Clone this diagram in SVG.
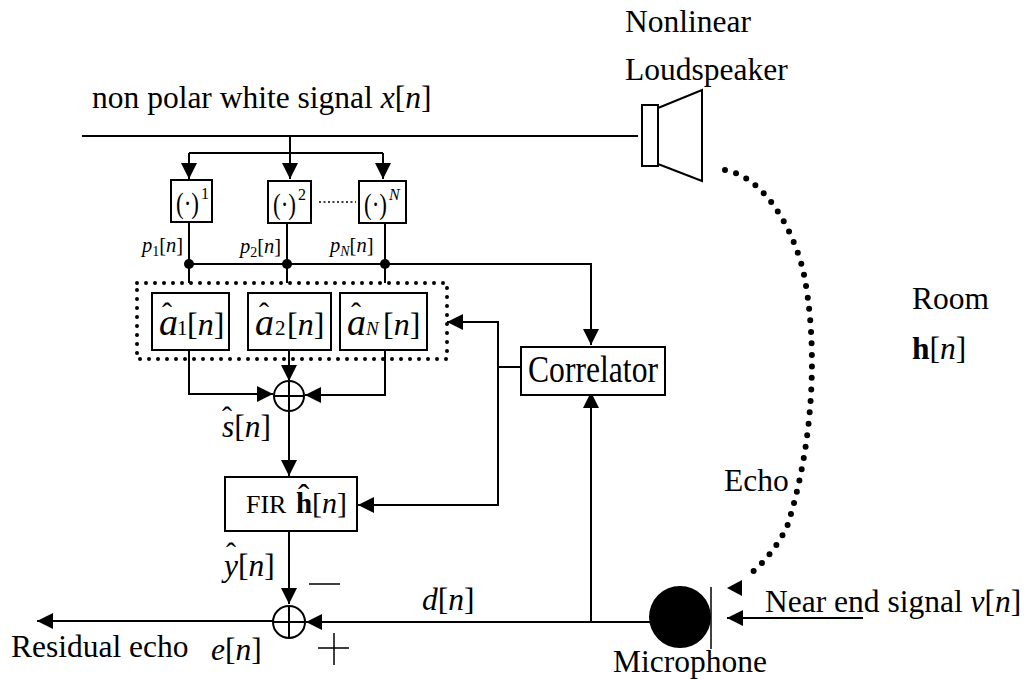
<svg xmlns="http://www.w3.org/2000/svg" width="1028" height="679" viewBox="0 0 1028 679">
<defs>
<marker id="a" viewBox="0 0 16 16" markerUnits="userSpaceOnUse" markerWidth="16" markerHeight="16" refX="16" refY="8" orient="auto"><path d="M0 0L16 8L0 16Z" fill="#000"/></marker>
</defs>
<style>
text{font-family:"Liberation Serif","Times New Roman",serif;fill:#000}
.l{fill:none;stroke:#000;stroke-width:2}
.b{fill:#fff;stroke:#000;stroke-width:2}
.t{font-size:31.5px}.i{font-style:italic}
.m{font-size:20.5px}.s{font-size:14px}
.u{font-size:16px}
.p{font-size:29px}
.aa{font-size:38px}.sub{font-size:21px}.br{font-size:32px}.hat{font-size:30px}
</style>
<rect width="1028" height="679" fill="#fff"/>
<g id="connectors">
<path class="l" d="M82 136H638"/>
<path class="l" d="M189 153H383M290 136V153"/>
<path class="l" d="M189 153V179" marker-end="url(#a)"/>
<path class="l" d="M290 153V179" marker-end="url(#a)"/>
<path class="l" d="M383 153V179" marker-end="url(#a)"/>
<path class="l" d="M189 222V283M287 223V283M385 223V283"/>
<path class="l" d="M189 264H591V345" marker-end="url(#a)"/>
<path class="l" d="M189 350V394H273" marker-end="url(#a)"/>
<path class="l" d="M385 350V395H305" marker-end="url(#a)"/>
<path class="l" d="M289 350V381" marker-end="url(#a)"/>
<path class="l" d="M289 411V476" marker-end="url(#a)"/>
<path class="l" d="M521 367H498V322H447" marker-end="url(#a)"/>
<path class="l" d="M498 367V505H358" marker-end="url(#a)"/>
<path class="l" d="M289 531V604" marker-end="url(#a)"/>
<path class="l" d="M273 621H37" marker-end="url(#a)"/>
<path class="l" d="M650 622H306" marker-end="url(#a)"/>
<path class="l" d="M591 622V392" marker-end="url(#a)"/>
<path class="l" d="M863 618H727" marker-end="url(#a)"/>
<path d="M727 588L742 580V596Z" fill="#000"/>
<path d="M725 170C760 176 790 220 803 270C818 340 815 440 787 527C778 545 765 562 750 574" fill="none" stroke="#000" stroke-width="6" stroke-linecap="round" stroke-dasharray="0 11.5"/>
<path d="M319 202H356" stroke="#000" stroke-width="1.5" stroke-dasharray="2 2.5"/>
</g>
<g id="dotted-group"><rect x="137" y="283" width="310" height="76" fill="none" stroke="#000" stroke-width="4" stroke-linecap="round" stroke-dasharray="0 9"/></g>
<g id="speaker"><rect class="b" x="642" y="105" width="16" height="61"/><path class="l" d="M658 108L702 90V181L658 164"/></g>
<g id="mic"><circle cx="680" cy="617" r="31" fill="#000"/><path d="M711 587V649" stroke="#000" stroke-width="1.5"/></g>
<g id="p1"><rect class="b" x="171" y="180" width="41" height="42"/><text class="p" x="176" y="213" textLength="23" lengthAdjust="spacingAndGlyphs">(·)</text><text class="u" x="201" y="199">1</text></g>
<g id="p2"><rect class="b" x="268" y="181" width="43" height="42"/><text class="p" x="273" y="214" textLength="23" lengthAdjust="spacingAndGlyphs">(·)</text><text class="u" x="298" y="200">2</text></g>
<g id="pN"><rect class="b" x="359" y="181" width="47" height="42"/><text class="p" x="364" y="214" textLength="23" lengthAdjust="spacingAndGlyphs">(·)</text><text class="u i" x="389" y="200">N</text></g>
<g id="labels-p">
<text class="m" x="142" y="252"><tspan class="i">p</tspan><tspan class="s" dy="4">1</tspan><tspan dy="-4">[</tspan><tspan class="i">n</tspan>]</text>
<text class="m" x="240" y="253"><tspan class="i">p</tspan><tspan class="s" dy="4">2</tspan><tspan dy="-4">[</tspan><tspan class="i">n</tspan>]</text>
<text class="m" x="330" y="252"><tspan class="i">p</tspan><tspan class="s i" dy="4">N</tspan><tspan dy="-4">[</tspan><tspan class="i">n</tspan>]</text>
</g>
<g id="junctions"><circle cx="189" cy="264" r="5"/><circle cx="287" cy="264" r="5"/><circle cx="385" cy="264" r="5"/></g>
<g id="a1"><rect class="b" x="152" y="293" width="77" height="57"/><text><tspan class="hat" x="162" y="323">ˆ</tspan><tspan class="aa i" x="159" y="335">a</tspan><tspan class="sub" x="177" y="335">1</tspan><tspan class="br" x="187" y="335">[<tspan class="i">n</tspan>]</tspan></text></g>
<g id="a2"><rect class="b" x="248" y="293" width="83" height="57"/><text><tspan class="hat" x="259" y="323">ˆ</tspan><tspan class="aa i" x="255" y="335">a</tspan><tspan class="sub" x="275" y="335">2</tspan><tspan class="br" x="287" y="335">[<tspan class="i">n</tspan>]</tspan></text></g>
<g id="aN"><rect class="b" x="340" y="293" width="87" height="57"/><text><tspan class="hat" x="351" y="323">ˆ</tspan><tspan class="aa i" x="347" y="335">a</tspan><tspan class="sub i" x="366" y="335" style="font-size:19px">N</tspan><tspan class="br" x="383" y="335">[<tspan class="i">n</tspan>]</tspan></text></g>
<g id="sum1"><circle class="b" cx="289" cy="396" r="15"/><path class="l" d="M274 396H304M289 381V411"/></g>
<g id="fir"><rect class="b" x="225" y="477" width="132" height="54"/><text x="246" y="513" font-size="26">FIR</text><text><tspan x="298" y="508" font-size="34">ˆ</tspan><tspan x="296" y="513" font-size="29" font-weight="bold">h</tspan><tspan x="312" y="513" font-size="30">[<tspan class="i">n</tspan>]</tspan></text></g>
<g id="sum2"><circle class="b" cx="289" cy="622" r="16"/><path class="l" d="M273 622H305M289 606V638"/></g>
<g id="correlator"><rect class="b" x="521" y="347" width="144" height="48"/><text x="528" y="382" font-size="38" textLength="130" lengthAdjust="spacingAndGlyphs">Correlator</text></g>
<g id="labels">
<text class="t" x="92" y="108">non polar white signal <tspan class="i">x</tspan>[<tspan class="i">n</tspan>]</text>
<text class="t" x="625" y="32">Nonlinear</text>
<text class="t" x="625" y="80">Loudspeaker</text>
<text class="t" x="912" y="309">Room</text>
<text class="t" x="912" y="359"><tspan font-weight="bold">h</tspan>[<tspan class="i">n</tspan>]</text>
<text class="t" x="724" y="491">Echo</text>
<text class="t"><tspan class="hat" x="222" y="427">ˆ</tspan><tspan class="i" x="222" y="437">s</tspan>[<tspan class="i">n</tspan>]</text>
<text class="t"><tspan class="hat" x="226" y="563">ˆ</tspan><tspan class="i" x="224" y="576">y</tspan>[<tspan class="i">n</tspan>]</text>
<text class="t" x="422" y="610"><tspan class="i">d</tspan>[<tspan class="i">n</tspan>]</text>
<text class="t" x="11" y="657">Residual echo</text>
<text class="t" x="211" y="660"><tspan class="i">e</tspan>[<tspan class="i">n</tspan>]</text>
<text class="t" x="765" y="612">Near end signal <tspan class="i">v</tspan>[<tspan class="i">n</tspan>]</text>
<text class="t" x="613" y="672">Microphone</text>
<path d="M309 584H340M318 648H349M334 633V665" stroke="#000" stroke-width="1.5" fill="none"/>
</g>
</svg>
